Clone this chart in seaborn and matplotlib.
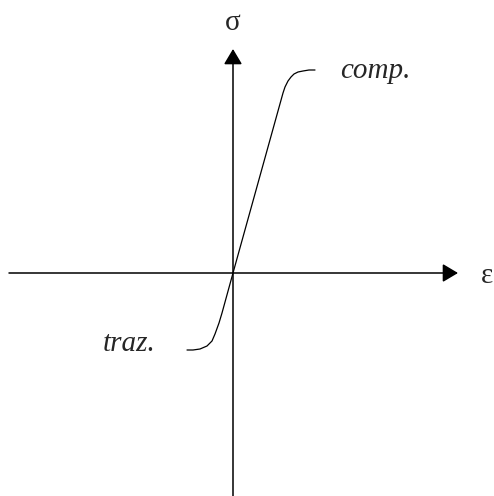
import matplotlib
matplotlib.use("Agg")
import matplotlib.pyplot as plt
import pandas as pd
import seaborn as sns

# stress-strain curve, origin at the axes crossing (units ~ pixels)
strain = [-46, -40, -33, -26, -21, -18, -14, -11, 0, 50, 52, 55, 58, 61, 65, 70, 76, 82]
stress = [-77, -77, -76, -73, -68, -61, -50, -40, 0, 180, 186, 192, 196, 199, 201, 202, 203, 203]

axisLabels = ["\u03b5", "\u03c3"]
curveLabels = ["comp.", "traz."]

df = pd.DataFrame({"strain": strain, "stress": stress})

sns.set_style("white")
plt.rcParams["font.family"] = ["Liberation Serif", "DejaVu Serif"]

fig = plt.figure(figsize=(4.94, 4.96), dpi=100)
ax = fig.add_axes([0, 0, 1, 1])
ax.set_xlim(-233, 261)
ax.set_ylim(-223, 273)

# axes with arrow heads
arrow = dict(arrowstyle="-|>,head_length=0.47,head_width=0.28", color="black",
             lw=1.1, shrinkA=0, shrinkB=0, mutation_scale=20)
ax.annotate("", xy=(225, 0), xytext=(-224, 0), arrowprops=arrow)
ax.annotate("", xy=(0, 224), xytext=(0, -223), arrowprops=arrow)

sns.lineplot(data=df, x="strain", y="stress", sort=False, color="black",
             lw=0.9, ax=ax)
ax.axis("off")

ax.text(254, -10, axisLabels[0], fontsize=21, ha="center", va="baseline")
ax.text(0, 243, axisLabels[1], fontsize=21, ha="center", va="baseline")
ax.text(107, 195, curveLabels[0], fontsize=21, style="italic", ha="left", va="baseline")
ax.text(-78, -78, curveLabels[1], fontsize=21, style="italic", ha="right", va="baseline")

plt.savefig("out.png", dpi=100)
plt.close()
